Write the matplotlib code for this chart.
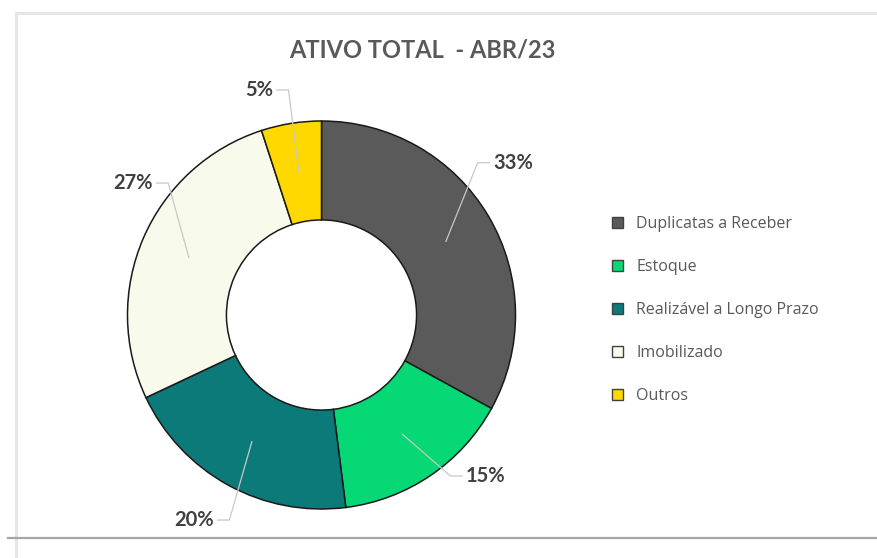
import numpy as np
import matplotlib.pyplot as plt
from matplotlib.patches import Patch
from matplotlib.lines import Line2D

# data
categorias = ['Duplicatas a Receber', 'Estoque', 'Realizável a Longo Prazo',
              'Imobilizado', 'Outros']
percentuais = [33, 15, 20, 27, 5]
cores = ['#5a5a5a', '#05d874', '#0b7a78', '#f8faec', '#ffd800']
titulo = 'ATIVO TOTAL  - ABR/23'

# label positions (pie radius units) and side of the text
label_xy = [(0.885, 0.785), (0.745, -0.830), (-0.555, -1.057),
            (-0.870, 0.680), (-0.250, 1.160)]
label_ha = ['left', 'left', 'right', 'right', 'right']

plt.rcParams['font.family'] = ['Lato', 'DejaVu Sans']

fig = plt.figure(figsize=(8.78, 5.58), dpi=100)
fig.patch.set_facecolor('white')

# chart frame
fig.add_artist(Line2D([16 / 878, 16 / 878], [0, 1 - 13 / 558], color='#e6e6e6', lw=2.2))
fig.add_artist(Line2D([16 / 878, 1], [1 - 13 / 558, 1 - 13 / 558], color='#e6e6e6', lw=2.2))
fig.add_artist(Line2D([8 / 878, 1], [1 - 538 / 558, 1 - 538 / 558], color='#a6a6a6', lw=1.6))

ax = fig.add_axes([127.5 / 878, 49 / 558, 388 / 878, 388 / 558])
wedges, _ = ax.pie(percentuais, colors=cores, startangle=90, counterclock=False,
                   radius=1.0, wedgeprops=dict(width=0.51, edgecolor='#1a1a1a', linewidth=1.1))
ax.set_xlim(-1, 1)
ax.set_ylim(-1, 1)
ax.set_aspect('equal')
ax.axis('off')

for w, p, (lx, ly), ha in zip(wedges, percentuais, label_xy, label_ha):
    mid = np.deg2rad((w.theta1 + w.theta2) / 2)
    r_mid = 0.745
    axx, ayy = r_mid * np.cos(mid), r_mid * np.sin(mid)
    sgn = -1 if ha == 'left' else 1
    end_x = lx + sgn * 0.02
    elbow_x = lx + sgn * 0.08
    ax.plot([axx, elbow_x, end_x], [ayy, ly, ly], color='#c8c8c8', lw=0.9,
            clip_on=False, zorder=3)
    ax.text(lx, ly, f'{p}%', ha=ha, va='center', fontsize=14.5, fontweight='bold',
            color='#404040', clip_on=False)

fig.text(422 / 878, 1 - 50 / 558, titulo, ha='center', va='center', fontsize=17,
         fontweight='bold', color='#595959')

handles = [Patch(facecolor=c, edgecolor='#404040', linewidth=1.0) for c in cores]
leg = fig.legend(handles, categorias, loc='upper left',
                 bbox_to_anchor=(598 / 878, 1 - 202 / 558), frameon=False,
                 prop={'family': ['Open Sans', 'DejaVu Sans'], 'size': 11.5},
                 labelcolor='#595959', handlelength=0.68,
                 handleheight=0.68, handletextpad=0.8, labelspacing=1.68)

fig.savefig('out.png', dpi=100, facecolor='white')
